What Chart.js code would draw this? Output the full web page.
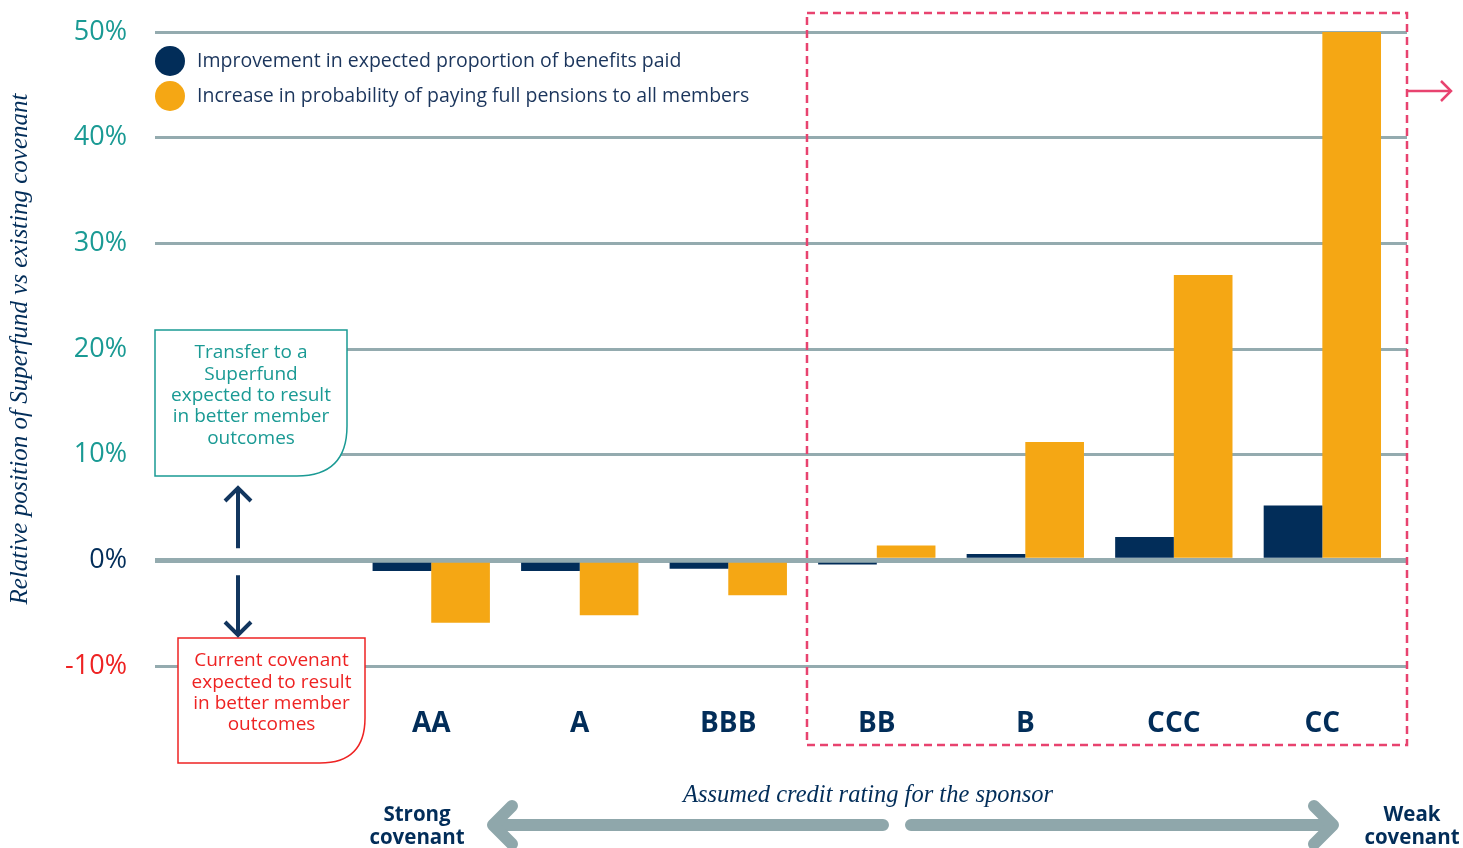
<!DOCTYPE html>
<html>
<head>
<meta charset="utf-8">
<script src="https://cdn.jsdelivr.net/npm/chart.js@4.4.1/dist/chart.umd.min.js"></script>
<style>
  html, body { margin: 0; padding: 0; background: #fff; }
  #wrap { width: 1463px; height: 848px; position: relative; }
</style>
</head>
<body>
<div id="wrap"><canvas id="chart" width="1463" height="848"></canvas></div>
<script>
const ratings = ['AA', 'A', 'BBB', 'BB', 'B', 'CCC', 'CC'];
const benefitsPaid = [-1.0, -1.0, -0.8, -0.4, 0.6, 2.2, 5.2];
const fullPensions = [-5.9, -5.2, -3.3, 1.4, 11.2, 27.0, 50.0];
const yTicks = [-10, 0, 10, 20, 30, 40, 50];
const seriesNames = ['Improvement in expected proportion of benefits paid', 'Increase in probability of paying full pensions to all members'];

const NAVY = '#022d59';
const ORANGE = '#f5a714';
const TEAL = '#1a9a94';
const RED = '#ee2323';
const GRID = '#94abaf';
const PINK = '#e8436f';
const SANS = '"Open Sans", sans-serif';
const SERIF = '"Liberation Serif", serif';

function chevron(ctx, x, y, dx, dy, size) {
  // open arrow head at (x,y) pointing in direction (dx,dy)
  ctx.beginPath();
  ctx.moveTo(x - dx * size - dy * size, y - dy * size - dx * size);
  ctx.lineTo(x, y);
  ctx.lineTo(x - dx * size + dy * size, y - dy * size + dx * size);
  ctx.stroke();
}

function noteBox(ctx, x1, y1, x2, y2, r, stroke, lines, color, lineH) {
  ctx.save();
  ctx.beginPath();
  ctx.moveTo(x1, y1);
  ctx.lineTo(x2, y1);
  ctx.lineTo(x2, y2 - r);
  ctx.quadraticCurveTo(x2, y2, x2 - r, y2);
  ctx.lineTo(x1, y2);
  ctx.closePath();
  ctx.fillStyle = '#fff';
  ctx.fill();
  ctx.strokeStyle = stroke;
  ctx.lineWidth = 1.5;
  ctx.stroke();
  ctx.fillStyle = color;
  ctx.font = '19px ' + SANS;
  ctx.textAlign = 'center';
  ctx.textBaseline = 'middle';
  lines.forEach((t, i) => ctx.fillText(t, (x1 + x2) / 2, y1 + 23 + i * lineH));
  ctx.restore();
}

const extras = {
  id: 'extras',
  afterDatasetsDraw(chart) {
    const ctx = chart.ctx;
    const ya = chart.scales.y;
    const xa = chart.scales.x;
    ctx.save();

    // legend
    seriesNames.forEach((name, i) => {
      const cy = 61 + i * 35;
      ctx.beginPath();
      ctx.arc(170, cy, 15, 0, Math.PI * 2);
      ctx.fillStyle = i === 0 ? NAVY : ORANGE;
      ctx.fill();
      ctx.fillStyle = '#1b355c';
      ctx.font = '19.5px ' + SANS;
      ctx.textAlign = 'left';
      ctx.textBaseline = 'middle';
      ctx.fillText(name, 197, cy);
    });

    // dashed highlight round BB..CC
    const left = xa.getPixelForValue(2.53);
    const right = chart.chartArea.right;
    ctx.strokeStyle = PINK;
    ctx.lineWidth = 2.5;
    ctx.setLineDash([8, 5]);
    ctx.strokeRect(left, 13, right - left, 732);
    ctx.setLineDash([]);
    ctx.lineWidth = 2.5;
    ctx.beginPath();
    ctx.moveTo(right, 91);
    ctx.lineTo(right + 44, 91);
    ctx.stroke();
    chevron(ctx, right + 44, 91, 1, 0, 10);

    // note boxes
    noteBox(ctx, 155, 330, 347, 476, 50, TEAL,
      ['Transfer to a', 'Superfund', 'expected to result', 'in better member', 'outcomes'], TEAL, 21.3);
    noteBox(ctx, 178, 638, 365, 763, 45, RED,
      ['Current covenant', 'expected to result', 'in better member', 'outcomes'], RED, 21.3);

    // up / down arrows
    const zero = ya.getPixelForValue(0);
    ctx.strokeStyle = '#12365f';
    ctx.lineWidth = 4;
    ctx.beginPath();
    ctx.moveTo(238, zero - 12);
    ctx.lineTo(238, 488);
    ctx.moveTo(238, zero + 15);
    ctx.lineTo(238, 635);
    ctx.stroke();
    chevron(ctx, 238, 488, 0, -1, 13);
    chevron(ctx, 238, 635, 0, 1, 13);

    // bottom axis note
    ctx.fillStyle = NAVY;
    ctx.font = 'italic 24.5px ' + SERIF;
    ctx.textAlign = 'center';
    ctx.textBaseline = 'middle';
    ctx.fillText('Assumed credit rating for the sponsor', 868, 796);

    ctx.strokeStyle = '#8fa7ab';
    ctx.lineWidth = 12;
    ctx.lineCap = 'round';
    ctx.lineJoin = 'round';
    ctx.beginPath();
    ctx.moveTo(494, 825);
    ctx.lineTo(883, 825);
    ctx.moveTo(911, 825);
    ctx.lineTo(1332, 825);
    ctx.stroke();
    chevron(ctx, 493, 825, -1, 0, 19);
    chevron(ctx, 1333, 825, 1, 0, 19);

    ctx.fillStyle = NAVY;
    ctx.font = 'bold 20.5px ' + SANS;
    ctx.fillText('Strong', 417, 815);
    ctx.fillText('covenant', 417, 838);
    ctx.fillText('Weak', 1412, 815);
    ctx.fillText('covenant', 1412, 838);
    ctx.restore();
  }
};

new Chart(document.getElementById('chart'), {
  type: 'bar',
  data: {
    datasets: [
      {
        label: seriesNames[0],
        data: benefitsPaid.map((v, i) => ({ x: i, y: v })),
        backgroundColor: NAVY
      },
      {
        label: seriesNames[1],
        data: fullPensions.map((v, i) => ({ x: i, y: v })),
        backgroundColor: ORANGE
      }
    ]
  },
  options: {
    responsive: false,
    animation: false,
    layout: { padding: { top: 32, right: 56, left: 0, bottom: 0 } },
    categoryPercentage: 0.79,
    barPercentage: 1,
    scales: {
      x: {
        type: 'linear',
        offset: false,
        min: -1.86,
        max: 6.57,
        grid: { display: false, offset: false },
        border: { display: false },
        afterBuildTicks(scale) {
          scale.ticks = ratings.map((r, i) => ({ value: i }));
        },
        afterFit(scale) {
          scale.height = 182;
          scale.paddingLeft = 0;
          scale.paddingRight = 0;
        },
        ticks: {
          autoSkip: false,
          maxRotation: 0,
          padding: 33,
          color: NAVY,
          font: { family: SANS, size: 28, weight: 'bold' },
          callback: v => ratings[v]
        }
      },
      y: {
        min: -10,
        max: 50,
        afterBuildTicks(scale) {
          scale.ticks = yTicks.map(v => ({ value: v }));
        },
        afterFit(scale) {
          scale.width = 155;
          scale.paddingTop = 0;
          scale.paddingBottom = 0;
        },
        border: { display: false },
        grid: {
          drawTicks: false,
          color: GRID,
          lineWidth: c => (c.tick && c.tick.value === 0 ? 5 : 3)
        },
        ticks: {
          padding: 28,
          font: { family: SANS, size: 27 },
          color: c => (c.tick.value < 0 ? RED : c.tick.value === 0 ? NAVY : TEAL),
          callback: v => v + '%'
        },
        title: {
          display: true,
          text: 'Relative position of Superfund vs existing covenant',
          color: NAVY,
          font: { family: SERIF, size: 25, style: 'italic' },
          padding: { top: 5, bottom: 0 }
        }
      }
    },
    plugins: {
      legend: { display: false },
      tooltip: { enabled: false }
    }
  },
  plugins: [extras]
});
</script>
</body>
</html>
